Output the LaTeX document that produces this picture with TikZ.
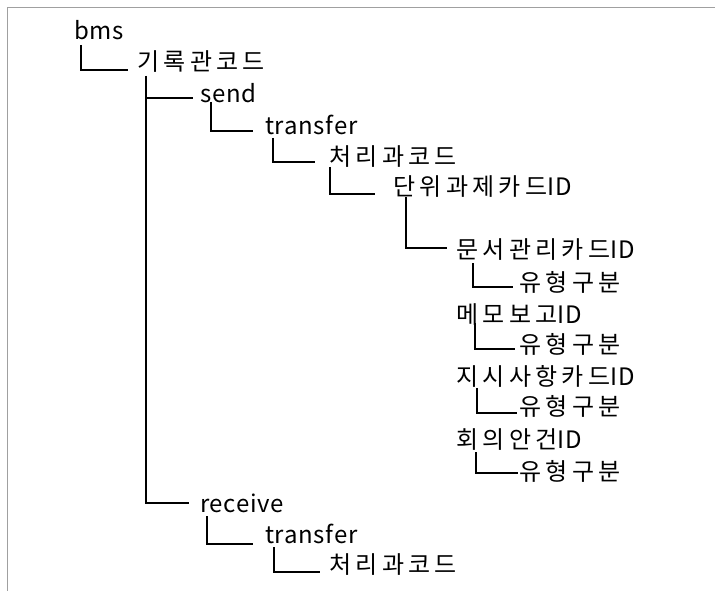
\documentclass[tikz,border=0pt]{standalone}
\usepackage{fontspec}
\newfontfamily\kr[LetterSpace=18]{Noto Sans CJK KR}
\newfontfamily\la[LetterSpace=3]{Noto Sans CJK KR}
\newcommand{\lid}{{\la ID}}
\definecolor{framegray}{HTML}{A0A0A0}
\begin{document}
\begin{tikzpicture}[x=1pt,y=-1pt,
  lbl/.style={anchor=base west,inner sep=0pt,font=\kr\fontsize{24}{28}\selectfont},
  llbl/.style={anchor=base west,inner sep=0pt,font=\la\fontsize{24}{28}\selectfont},
  conn/.style={line width=1.3pt,black}]
\useasboundingbox (0,0) rectangle (715,591);
\draw[framegray,line width=1.3pt] (7.5,591) -- (7.5,7.5) -- (715,7.5);
% labels
\node[llbl] (bms) at (74,40) {bms};
\node[lbl] (gi) at (137,71) {기록관코드};
\node[llbl] (send) at (200,103) {send};
\node[llbl] (tra) at (265,135) {transfer};
\node[lbl] (cpa) at (329,165) {처리과코드};
\node[lbl] (dw) at (393,196) {단위과제카드\lid};
\node[lbl] (mc) at (456,258) {문서관리카드\lid};
\node[lbl] (ua) at (519,291) {유형구분};
\node[lbl] (memo) at (456,323) {메모보고\lid};
\node[lbl] (ub) at (519,353) {유형구분};
\node[lbl] (js) at (456,385) {지시사항카드\lid};
\node[lbl] (uc) at (519,415) {유형구분};
\node[lbl] (hu) at (456,448) {회의안건\lid};
\node[lbl] (ud) at (519,480) {유형구분};
\node[llbl] (recv) at (200,512) {receive};
\node[llbl] (trb) at (265,543) {transfer};
\node[lbl] (cpb) at (329,573) {처리과코드};
% connectors
\draw[conn] ([xshift=7pt,yshift=-5pt]bms.base west) |- ([xshift=-9pt,yshift=1pt]gi.base west);
\draw[conn] ([xshift=9pt,yshift=-5pt]gi.base west) |- ([xshift=-7pt,yshift=5pt]send.base west);
\draw[conn] ([xshift=9pt,yshift=-5pt]gi.base west) |- ([xshift=-11pt,yshift=9pt]recv.base west);
\draw[conn] ([xshift=11pt,yshift=1pt]send.base west) |- ([xshift=-12pt,yshift=4pt]tra.base west);
\draw[conn] ([xshift=8pt,yshift=-3pt]tra.base west) |- ([xshift=-14pt,yshift=3pt]cpa.base west);
\draw[conn] ([xshift=1pt,yshift=-2pt]cpa.base west) |- ([xshift=-18pt,yshift=2pt]dw.base west);
\draw[conn] ([xshift=13pt,yshift=-1pt]dw.base west) |- ([xshift=-9pt,yshift=10pt]mc.base west);
\draw[conn] ([xshift=17pt,yshift=-5pt]mc.base west) |- ([xshift=-6pt,yshift=4pt]ua.base west);
\draw[conn] ([xshift=19pt,yshift=0pt]memo.base west) |- ([xshift=-4pt,yshift=4pt]ub.base west);
\draw[conn] ([xshift=21pt,yshift=-3pt]js.base west) |- ([xshift=-2pt,yshift=2pt]uc.base west);
\draw[conn] ([xshift=20pt,yshift=-4pt]hu.base west) |- ([xshift=-1pt,yshift=7pt]ud.base west);
\draw[conn] ([xshift=7pt,yshift=-4pt]recv.base west) |- ([xshift=-12pt,yshift=-1pt]trb.base west);
\draw[conn] ([xshift=9pt,yshift=-4pt]trb.base west) |- ([xshift=-9pt,yshift=1pt]cpb.base west);
\end{tikzpicture}
\end{document}
